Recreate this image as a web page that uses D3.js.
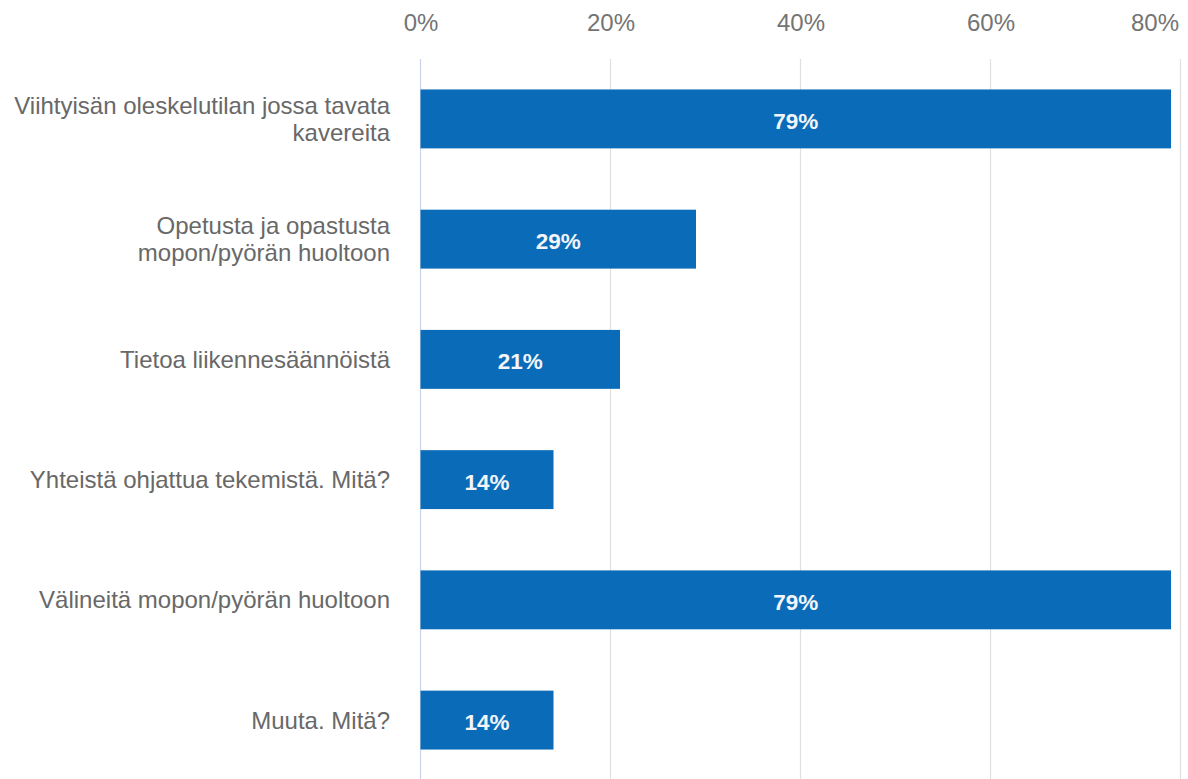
<!DOCTYPE html>
<html><head><meta charset="utf-8">
<script src="https://cdn.jsdelivr.net/npm/d3@7"></script>
<style>body{margin:0;background:#fff;} text{font-family:"Liberation Sans",Arial,sans-serif;}</style>
</head><body>
<svg id="c" width="1188" height="779"></svg>
<script>
const categories = [
  ["Viihtyisän oleskelutilan jossa tavata","kavereita"],
  ["Opetusta ja opastusta","mopon/pyörän huoltoon"],
  ["Tietoa liikennesäännöistä"],
  ["Yhteistä ohjattua tekemistä. Mitä?"],
  ["Välineitä mopon/pyörän huoltoon"],
  ["Muuta. Mitä?"]
];
const values = [79, 29, 21, 14, 79, 14];
const tickValues = [0, 20, 40, 60, 80];

const svg = d3.select("#c");
const x = d3.scaleLinear().domain([0, 80]).range([420.5, 1180.5]);
const y = d3.scaleBand().domain(d3.range(categories.length)).range([60, 779]).paddingInner(0.51).paddingOuter(0.245);

// gridlines
svg.append("g").selectAll("line").data(tickValues).join("line")
  .attr("x1", d => x(d)).attr("x2", d => x(d)).attr("y1", 59).attr("y2", 779)
  .attr("stroke", d => d === 0 ? "#c9d3ee" : "#e0e0e0").attr("stroke-width", 1.2);

// top axis labels
const ax = svg.append("g").attr("transform", "translate(0,31)")
  .call(d3.axisTop(x).tickValues(tickValues).tickFormat(d => d + "%").tickSize(0).tickPadding(0));
ax.select(".domain").remove();
ax.selectAll("text").attr("font-size", 24).attr("fill", "#747474").attr("font-family", "Liberation Sans, Arial, sans-serif");
ax.selectAll(".tick").filter(d => d === 80).select("text").attr("text-anchor", "end").attr("x", -2);

// bars
svg.append("g").selectAll("rect").data(values).join("rect")
  .attr("x", x(0)).attr("y", (d, i) => y(i)).attr("width", d => x(d) - x(0)).attr("height", y.bandwidth())
  .attr("fill", "#0a6bb8");

// value labels
svg.append("g").selectAll("text").data(values).join("text")
  .attr("x", d => (x(0) + x(d)) / 2).attr("y", (d, i) => y(i) + y.bandwidth() / 2 + 2)
  .attr("dy", "0.36em").attr("text-anchor", "middle").attr("fill", "#f2f5fa")
  .attr("font-size", 22.5).attr("font-weight", "bold").text(d => d + "%");

// category labels
const cl = svg.append("g").selectAll("text").data(categories).join("text")
  .attr("text-anchor", "end").attr("fill", "#686868").attr("font-size", 24)
  .attr("transform", (d, i) => `translate(390,${y(i) + y.bandwidth() / 2})`);
cl.each(function(lines) {
  const t = d3.select(this);
  const lh = 27;
  const off = -(lines.length - 1) * lh / 2;
  lines.forEach((l, j) => t.append("tspan").attr("x", 0).attr("y", off + j * lh).attr("dy", "0.36em").text(l));
});
</script>
</body></html>
